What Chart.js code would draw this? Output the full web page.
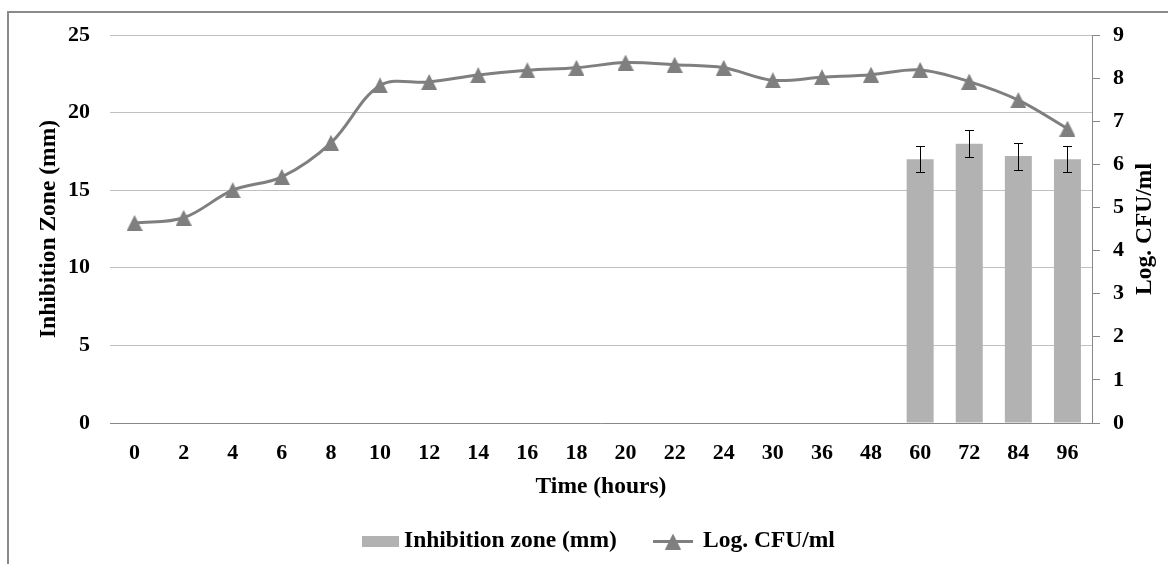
<!DOCTYPE html>
<html>
<head>
<meta charset="utf-8">
<script src="https://cdn.jsdelivr.net/npm/chart.js@4.4.0/dist/chart.umd.min.js"></script>
<style>
  html, body { margin: 0; padding: 0; background: #fff; }
</style>
</head>
<body>
<canvas id="chart" width="1168" height="564"></canvas>
<script>
// data
const hours = ['0', '2', '4', '6', '8', '10', '12', '14', '16', '18', '20', '22', '24', '30', '36', '48', '60', '72', '84', '96'];
const logCfu = [4.64, 4.76, 5.40, 5.71, 6.50, 7.83, 7.91, 8.07, 8.18, 8.24, 8.36, 8.31, 8.24, 7.95, 8.02, 8.08, 8.19, 7.92, 7.49, 6.83];
const inhibitionZone = [null, null, null, null, null, null, null, null, null, null, null, null, null, null, null, null, 17.0, 18.0, 17.2, 17.0];
const inhibitionErr = [null, null, null, null, null, null, null, null, null, null, null, null, null, null, null, null, 0.85, 0.87, 0.87, 0.85];

const FONT = "'Times New Roman', 'Liberation Serif', serif";
const TITLE_FONT = 'bold 23.5px ' + FONT;
const BAR_COLOR = '#b2b2b2';
const LINE_COLOR = '#7f7f7f';

Chart.defaults.font.family = FONT;
Chart.defaults.font.size = 22;
Chart.defaults.font.weight = 'bold';
Chart.defaults.color = '#000';

// excel-like triangle marker (bounding box centred on the point)
function makeTriangle(size, color) {
    const c = document.createElement('canvas');
    c.width = size; c.height = size;
    const g = c.getContext('2d');
    g.fillStyle = color;
    g.beginPath();
    g.moveTo(size / 2, 0);
    g.lineTo(size, size);
    g.lineTo(0, size);
    g.closePath();
    g.fill();
    return c;
}
const triangle = makeTriangle(16, LINE_COLOR);

// background + outer frame
const framePlugin = {
    id: 'frame',
    beforeDraw(chart) {
        const ctx = chart.ctx;
        ctx.save();
        ctx.fillStyle = '#fff';
        ctx.fillRect(0, 0, chart.width, chart.height);
        ctx.strokeStyle = '#8a8a8a';
        ctx.lineWidth = 2;
        ctx.beginPath();
        ctx.moveTo(8, chart.height);
        ctx.lineTo(8, 12);
        ctx.lineTo(chart.width, 12);
        ctx.stroke();
        ctx.restore();
    }
};

// standard deviation bars on the inhibition zone columns
const errorBarPlugin = {
    id: 'errorBars',
    afterDatasetsDraw(chart) {
        const ctx = chart.ctx;
        const y = chart.scales.y;
        const meta = chart.getDatasetMeta(0);
        ctx.save();
        ctx.strokeStyle = '#000';
        ctx.lineWidth = 1;
        meta.data.forEach((bar, i) => {
            const v = inhibitionZone[i], e = inhibitionErr[i];
            if (v == null) return;
            const x = Math.round(bar.x) + 0.5;
            const top = Math.round(y.getPixelForValue(v + e)) + 0.5;
            const bot = Math.round(y.getPixelForValue(v - e)) + 0.5;
            ctx.beginPath();
            ctx.moveTo(x, top); ctx.lineTo(x, bot);
            ctx.moveTo(x - 4.5, top); ctx.lineTo(x + 4.5, top);
            ctx.moveTo(x - 4.5, bot); ctx.lineTo(x + 4.5, bot);
            ctx.stroke();
        });
        ctx.restore();
    }
};

// axis titles and the legend row
const labelsPlugin = {
    id: 'labels',
    afterDraw(chart) {
        const ctx = chart.ctx;
        const area = chart.chartArea;
        const midX = (area.left + area.right) / 2;
        const midY = (area.top + area.bottom) / 2;
        ctx.save();
        ctx.fillStyle = '#000';
        ctx.font = TITLE_FONT;
        ctx.textBaseline = 'alphabetic';
        ctx.textAlign = 'center';

        ctx.fillText('Time (hours)', midX, 493);

        ctx.save();
        ctx.translate(55, midY);
        ctx.rotate(-Math.PI / 2);
        ctx.fillText('Inhibition Zone (mm)', 0, 0);
        ctx.restore();

        ctx.save();
        ctx.translate(1151, midY);
        ctx.rotate(-Math.PI / 2);
        ctx.fillText('Log. CFU/ml', 0, 0);
        ctx.restore();

        // legend
        const ds = chart.data.datasets;
        const base = 547;
        ctx.textAlign = 'left';
        ctx.fillStyle = BAR_COLOR;
        ctx.fillRect(362, 536, 37, 11);
        ctx.fillStyle = '#000';
        ctx.fillText(ds[0].label, 404, base);
        ctx.strokeStyle = LINE_COLOR;
        ctx.lineWidth = 3;
        ctx.beginPath();
        ctx.moveTo(653, 541.5); ctx.lineTo(693, 541.5);
        ctx.stroke();
        ctx.drawImage(triangle, 673 - 8, 541.5 - 8);
        ctx.fillText(ds[1].label, 703, base);
        ctx.restore();
    }
};

const ctx = document.getElementById('chart').getContext('2d');
new Chart(ctx, {
    type: 'bar',
    data: {
        labels: hours,
        datasets: [{
            type: 'bar',
            label: 'Inhibition zone (mm)',
            data: inhibitionZone,
            backgroundColor: BAR_COLOR,
            borderWidth: 0,
            barPercentage: 0.55,
            categoryPercentage: 1,
            yAxisID: 'y',
            order: 2
        }, {
            type: 'line',
            label: 'Log. CFU/ml',
            data: logCfu,
            borderColor: LINE_COLOR,
            backgroundColor: LINE_COLOR,
            borderWidth: 3,
            tension: 0.35,
            pointStyle: triangle,
            yAxisID: 'y1',
            order: 1
        }]
    },
    options: {
        responsive: false,
        animation: false,
        events: [],
        layout: { padding: { top: 35, left: 0, right: 0, bottom: 0 } },
        plugins: { legend: { display: false }, tooltip: { enabled: false } },
        scales: {
            x: {
                grid: { display: false, drawTicks: false },
                border: { display: true, color: '#888', width: 1 },
                ticks: { padding: 17, autoSkip: false, maxRotation: 0 },
                afterFit(s) { s.height = 141; }
            },
            y: {
                position: 'left',
                min: 0, max: 25,
                ticks: { stepSize: 5, padding: 20 },
                grid: {
                    drawTicks: false,
                    color: c => c.tick && c.tick.value === 0 ? 'rgba(0,0,0,0)' : '#c0c0c0'
                },
                border: { display: false },
                afterFit(s) { s.width = 110; }
            },
            y1: {
                position: 'right',
                min: 0, max: 9,
                ticks: { stepSize: 1, padding: 13 },
                grid: { drawOnChartArea: false, drawTicks: true, tickLength: 8, color: '#888' },
                border: { display: true, color: '#888', width: 1 },
                afterFit(s) { s.width = 76; }
            }
        }
    },
    plugins: [framePlugin, errorBarPlugin, labelsPlugin]
});
</script>
</body>
</html>
